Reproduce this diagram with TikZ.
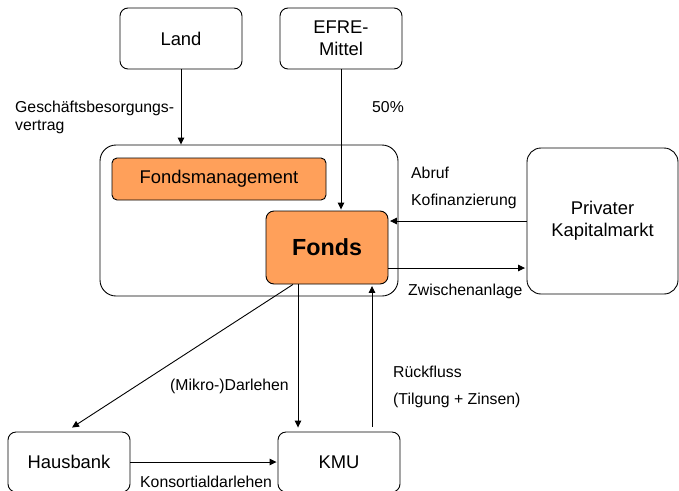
\documentclass[tikz,border=0pt]{standalone}
\usepackage{fontspec}
\setmainfont{Liberation Sans}
\usetikzlibrary{arrows.meta,calc}
\definecolor{fondsorange}{RGB}{255,160,90}
\begin{document}
\begin{tikzpicture}[x=1pt,y=-1pt,
  box/.style={draw=black,line width=0.9pt,rounded corners=8pt,align=center,
    inner sep=0pt,font=\fontsize{18.4}{22}\selectfont},
  orangebox/.style={box,fill=fondsorange},
  arr/.style={draw=black,line width=0.9pt,-{Triangle[length=7pt,width=6.5pt]}},
  lbl/.style={font=\fontsize{15.8}{18}\selectfont,inner sep=0pt,anchor=base west}
]
\useasboundingbox (0,0) rectangle (679,490);
\clip (0,0) rectangle (679,490);

% boxes
\node[box,minimum width=122pt,minimum height=61pt] (land) at (181,38.5) {Land};
\node[box,minimum width=122pt,minimum height=61pt] (efre) at (341,38.5) {EFRE-\\Mittel};
\node[box,rounded corners=16pt,minimum width=298pt,minimum height=151pt] (outer) at (249,220.5) {};
\node[orangebox,rounded corners=5pt,minimum width=214pt,minimum height=42pt] (fm) at (219,179) {Fondsmanagement};
\node[orangebox,minimum width=122pt,minimum height=73pt,font=\fontsize{23.3}{26}\selectfont\bfseries] (fonds) at (327,247.5) {Fonds};
\node[box,rounded corners=14pt,minimum width=151pt,minimum height=146pt] (kap) at (602.5,221) {Privater\\Kapitalmarkt};
\node[box,minimum width=122pt,minimum height=60pt] (hausbank) at (69,462) {Hausbank};
\node[box,minimum width=122pt,minimum height=60pt] (kmu) at (339,462) {KMU};

% connectors
\draw[arr] (land.south) -- (land.south |- outer.north);
\draw[arr,shorten >=1pt] (efre.south) -- (efre.south |- fonds.north);
\draw[arr,shorten >=1.5pt] (kap.west) -- (kap.west -| fonds.east);
\coordinate (zs) at ($(fonds.east)+(0,20.5)$);
\draw[arr,shorten >=1.5pt] (zs) -- (zs -| kap.west);
\coordinate (fd) at ($(fonds.south)+(-29,0)$);
\draw[arr,shorten >=4pt] (fd) -- (fd |- kmu.north);
\coordinate (ku) at ($(kmu.north)+(33,0)$);
\draw[arr,shorten <=5pt,shorten >=1.5pt] (ku) -- (ku |- fonds.south);
\coordinate (fd2) at ($(fonds.south)+(-34,0)$);
\coordinate (hb) at ($(hausbank.north)+(3,-4)$);
\draw[arr] (fd2) -- (hb);
\draw[arr,shorten >=1pt] (hausbank.east) -- (kmu.west);

% labels
\node[lbl] (l1) at (15,112) {Geschäftsbesorgungs-};
\node[lbl] (l2) at (15,130) {vertrag};
\node[lbl] (l3) at (372,112) {50\%};
\node[lbl] (l4) at (411,178.5) {Abruf};
\node[lbl] (l5) at (411,205) {Kofinanzierung};
\node[lbl] (l6) at (408,295.5) {Zwischenanlage};
\node[lbl] (l7) at (170,390) {(Mikro-)Darlehen};
\node[lbl] (l8) at (393,377.5) {Rückfluss};
\node[lbl] (l9) at (393,404.5) {(Tilgung + Zinsen)};
\node[lbl] (l10) at (140,487) {Konsortialdarlehen};
\end{tikzpicture}
\end{document}
